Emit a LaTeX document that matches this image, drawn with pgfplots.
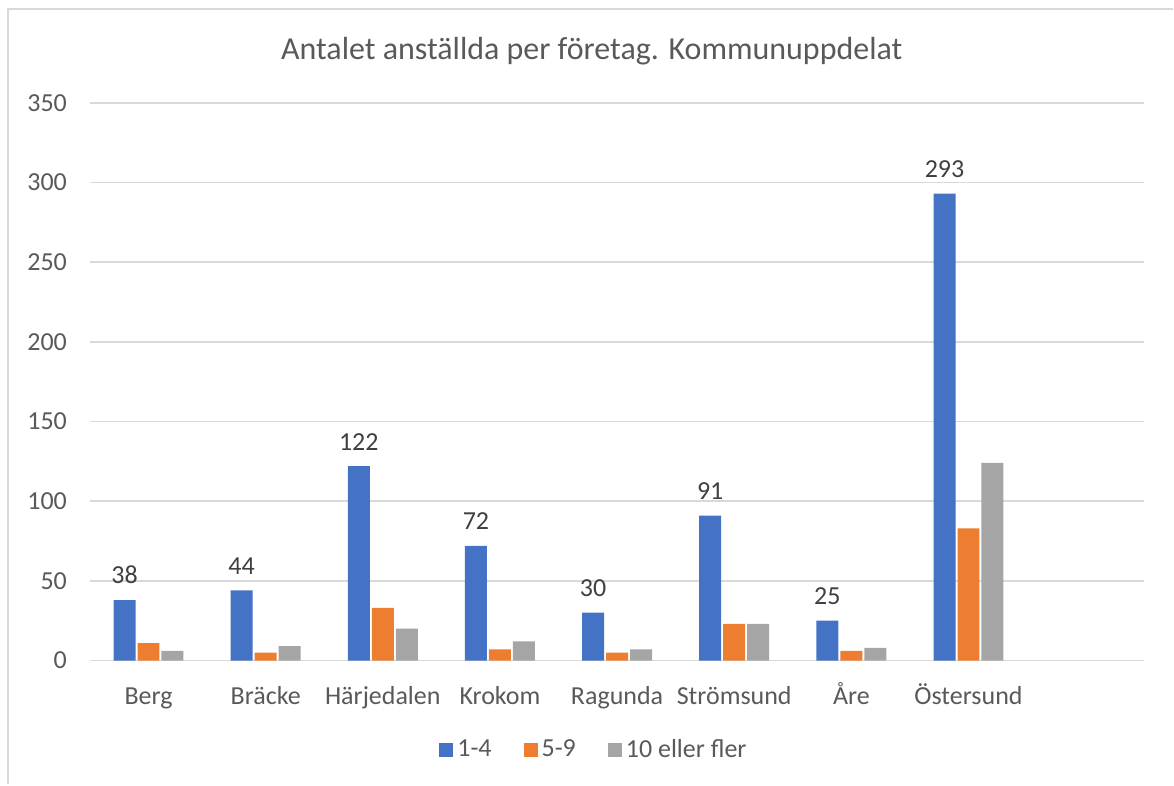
\documentclass[border=0pt]{standalone}
\usepackage{pgfplots}
\pgfplotsset{compat=1.18}
\usepackage{fontspec}
\setmainfont{Carlito}
\definecolor{cblue}{HTML}{4472C4}
\definecolor{corange}{HTML}{ED7D31}
\definecolor{cgray}{HTML}{A5A5A5}
\definecolor{gridc}{HTML}{D9D9D9}
\definecolor{txt}{HTML}{595959}
\definecolor{lbl}{HTML}{404040}
\begin{document}
\begin{tikzpicture}
\begin{axis}[
  at={(0,0)}, anchor=south west,
  scale only axis, width=527.5pt, height=279pt,
  ybar=1pt, bar width=11pt,
  xmin=-0.5, xmax=8.5, ymin=0, ymax=350,
  xtick={0,1,2,3,4,5,6,7},
  xticklabels={Berg,Bräcke,Härjedalen,Krokom,Ragunda,Strömsund,Åre,Östersund},
  ytick={0,50,100,150,200,250,300,350},
  ymajorgrids, grid style={gridc, line width=0.8pt},
  axis y line*=left,
  y axis line style={draw=none},
  axis x line*=bottom,
  x axis line style={gridc, line width=0.8pt, -},
  major tick length=0pt,
  tick style={draw=none},
  /pgf/number format/assume math mode=true,
  ticklabel style={font=\fontsize{13}{15}\selectfont, text=txt},
  xticklabel style={anchor=north, text height=9pt, text depth=3pt, yshift=-9.5pt},
  yticklabel style={xshift=-8pt},
  title={Antalet anställda per företag. Kommunuppdelat},
  title style={at={(0.476,1.072)}, anchor=center, font=\fontsize{16}{19}\selectfont, text=txt},
  legend columns=3,
  legend style={at={(0.479,-0.16)}, anchor=center, draw=none, fill=none,
    font=\fontsize{13}{15}\selectfont, text=txt,
    /tikz/every even column/.append style={column sep=14pt}},
  legend image code/.code={\fill[#1] (0pt,-3.5pt) rectangle (7pt,3.5pt);},
]
\addplot[fill=cblue, draw=none,
  nodes near coords, every node near coord/.append style={font=\fontsize{13}{15}\selectfont, text=lbl, yshift=4.5pt}]
  coordinates {(0,38) (1,44) (2,122) (3,72) (4,30) (5,91) (6,25) (7,293)};
\addplot[fill=corange, draw=none]
  coordinates {(0,11) (1,5) (2,33) (3,7) (4,5) (5,23) (6,6) (7,83)};
\addplot[fill=cgray, draw=none]
  coordinates {(0,6) (1,9) (2,20) (3,12) (4,7) (5,23) (6,8) (7,124)};
\legend{1-4,5-9,10 eller fler}
\end{axis}
\draw[gridc, line width=0.8pt] (-41pt,-62pt) -- (-41pt,326pt) -- (542pt,326pt);
\useasboundingbox (-45pt,-62pt) rectangle (542pt,330.5pt);
\end{tikzpicture}
\end{document}
